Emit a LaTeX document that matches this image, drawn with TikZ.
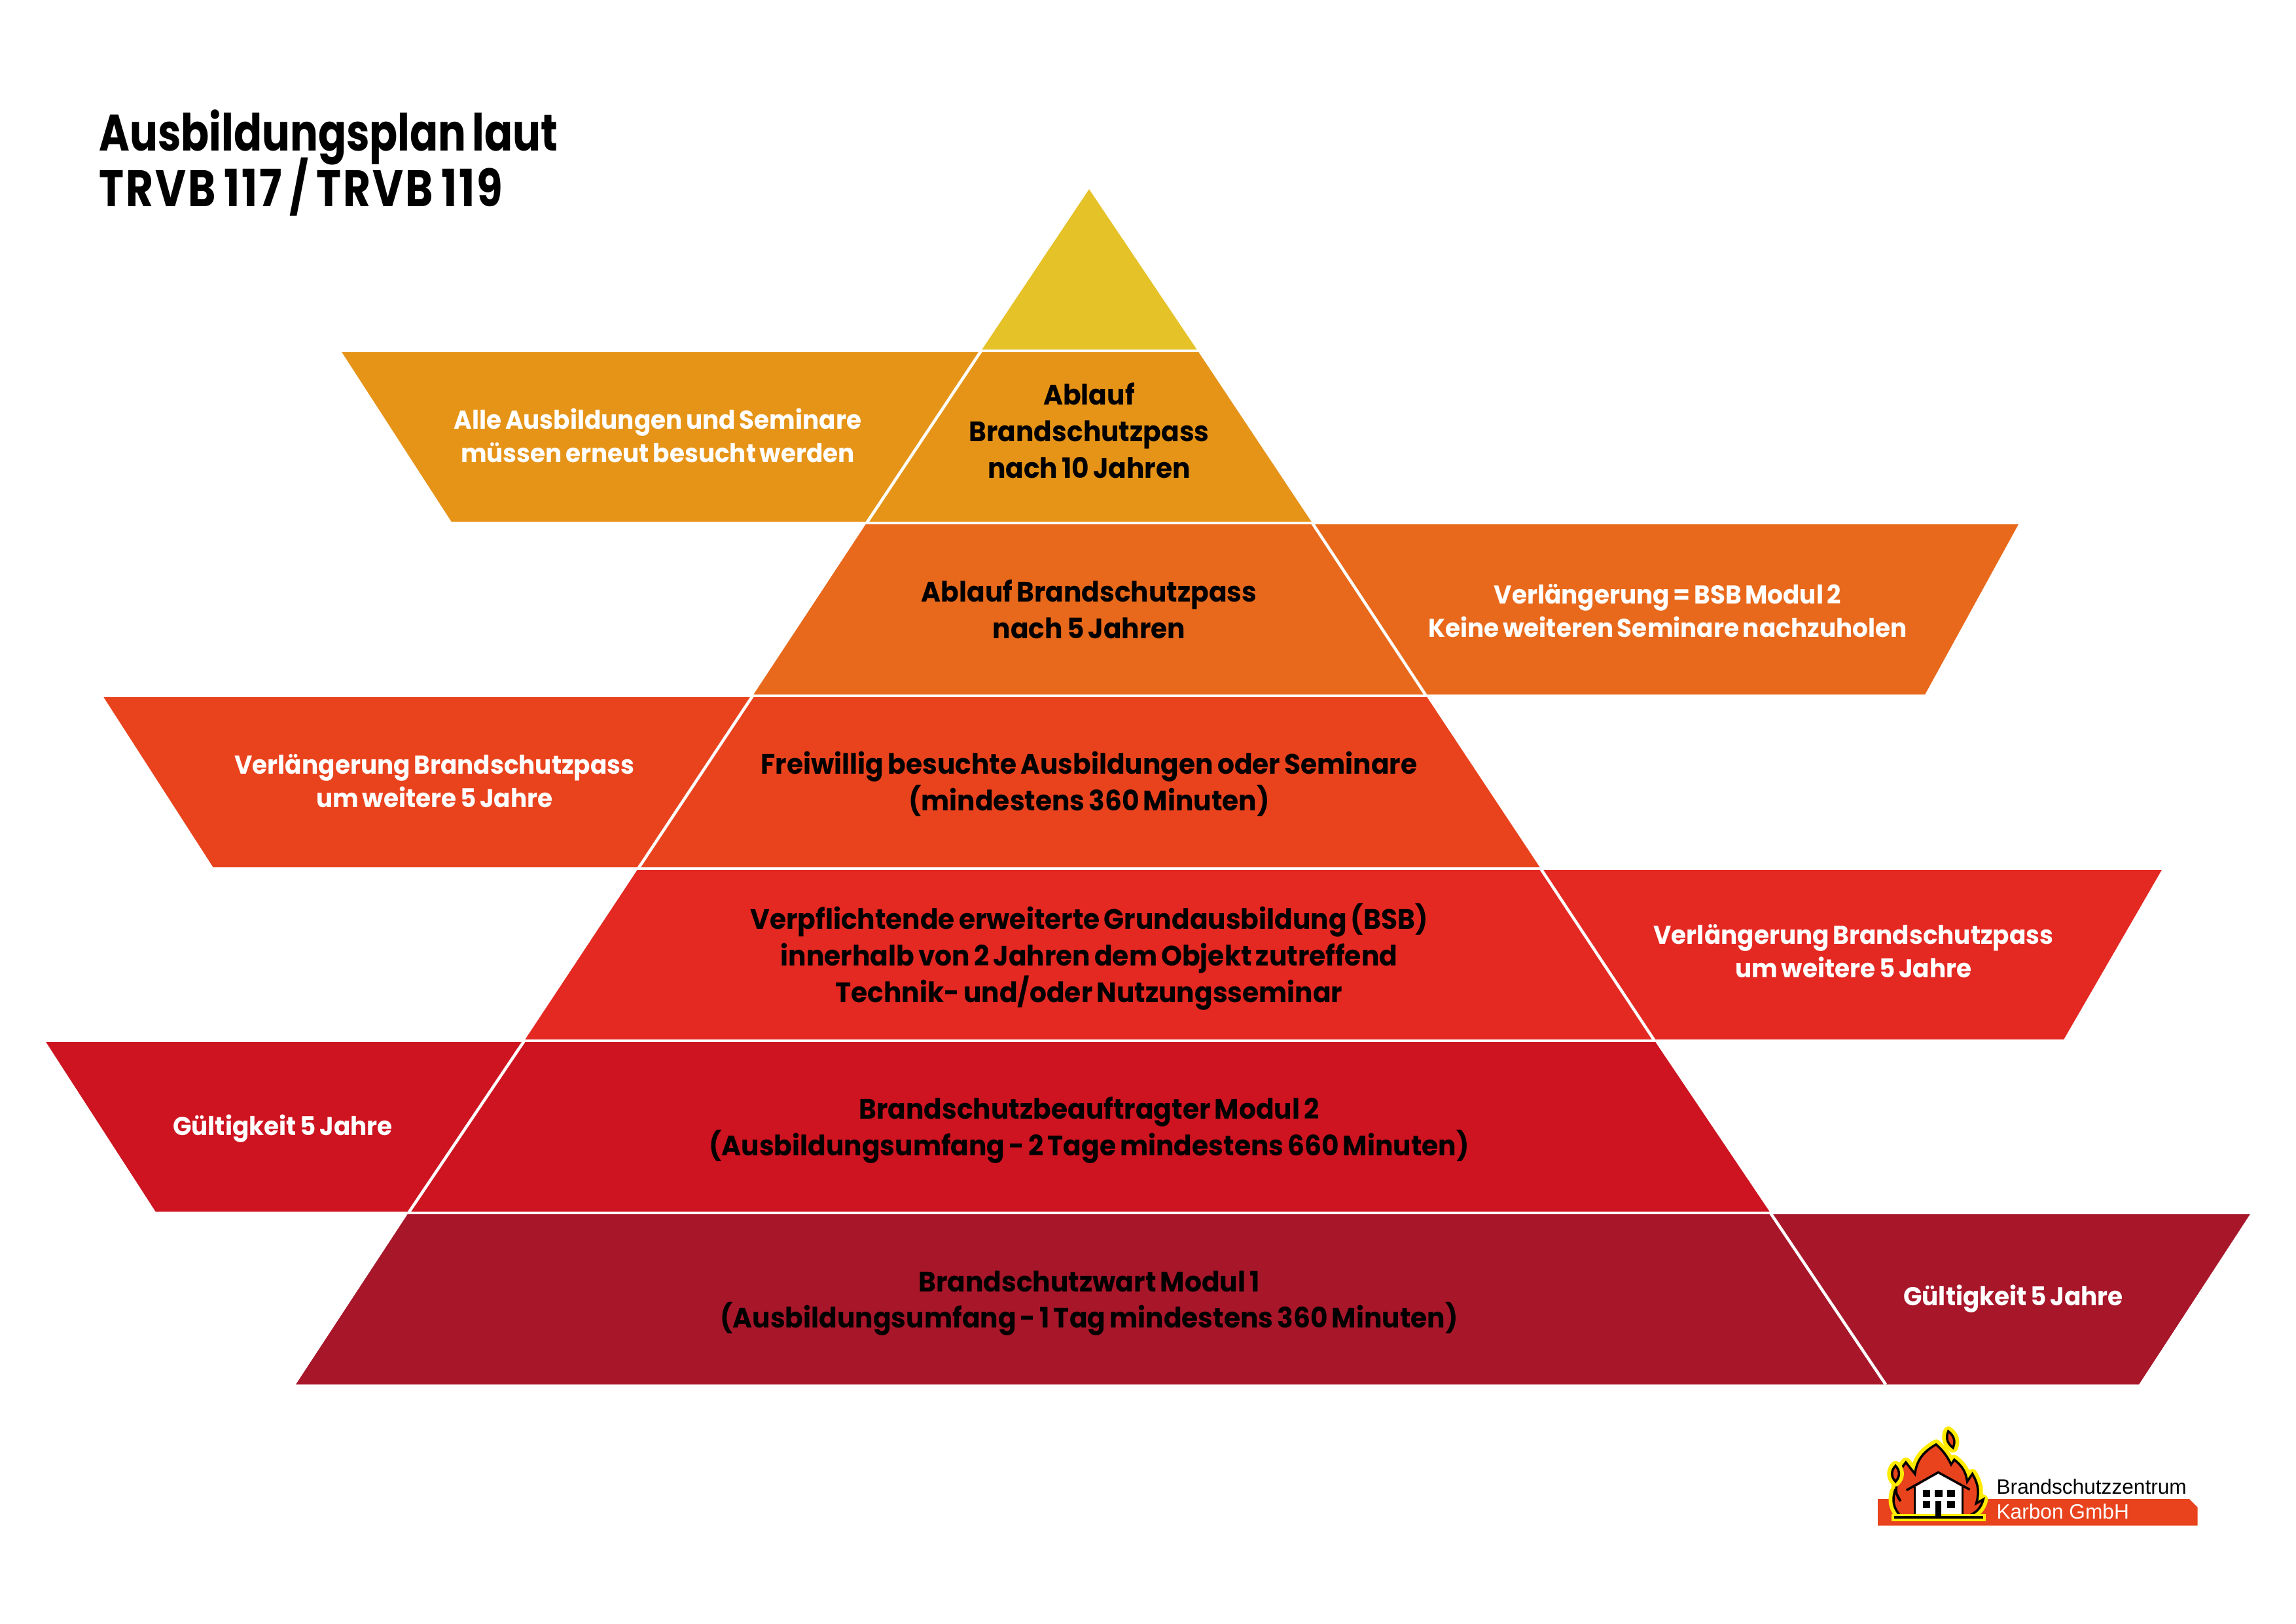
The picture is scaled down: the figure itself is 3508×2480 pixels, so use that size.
\documentclass[tikz,border=0pt]{standalone}
\usepackage{fontspec}
\setmainfont{Poppins}[FakeStretch=0.95,WordSpace=0.7]
\newfontfamily\titlefont{Poppins}[FakeStretch=0.81,WordSpace=0.7]
\newfontfamily\titlefontb{Poppins}[FakeStretch=0.82,WordSpace=0.7,LetterSpace=4]
\newfontfamily\logofont{Liberation Sans}
\definecolor{apexcol}{HTML}{E6C229}
\definecolor{rowa}{HTML}{E69418}
\definecolor{rowb}{HTML}{E8691B}
\definecolor{rowc}{HTML}{E9431E}
\definecolor{rowd}{HTML}{E42822}
\definecolor{rowe}{HTML}{CD1420}
\definecolor{rowf}{HTML}{A8162A}
\definecolor{flamecol}{HTML}{E8431D}
\definecolor{flameedge}{HTML}{FFEB00}
\begin{document}
\begin{tikzpicture}[
  x=0.01cm, y=-0.01cm,
  gap/.style={white, line width=4.5*0.01cm},
  lvltext/.style={align=center, inner sep=0pt, font=\fontsize{12.2}{15.9}\selectfont\bfseries},
  sidetext/.style={align=center, inner sep=0pt, text=white, font=\fontsize{11.2}{14.5}\selectfont\bfseries},
  titletext/.style={anchor=base west, inner sep=0pt, font=\fontsize{22.3}{24.2}\selectfont\bfseries},
  flameline/.style={draw=black, line width=3.5*0.01cm, line join=miter, preaction={draw=flameedge, line join=round, line width=15*0.01cm}}
]
\useasboundingbox (0,0) rectangle (3508,2480);

% pyramid corners
\coordinate (apex) at (1664,289);
\coordinate (l1) at (1499,536);  \coordinate (r1) at (1830,536);
\coordinate (l2) at (1324,799);  \coordinate (r2) at (2005,799);
\coordinate (l3) at (1150,1063); \coordinate (r3) at (2179,1063);
\coordinate (l4) at (975,1327);  \coordinate (r4) at (2354,1327);
\coordinate (l5) at (801,1590);  \coordinate (r5) at (2528,1590);
\coordinate (l6) at (624,1853);  \coordinate (r6) at (2705,1853);
\coordinate (l7) at (452,2115);  \coordinate (r7) at (2881,2115);

% rows, each with its side band
\fill[apexcol] (apex) -- (r1) -- (l1) -- cycle;
\fill[rowa] (521,536) -- (r1) -- (r2) -- (691,799) -- cycle;
\fill[rowb] (l2) -- (3085,799) -- (2940,1063) -- (l3) -- cycle;
\fill[rowc] (157,1063) -- (r3) -- (r4) -- (327,1327) -- cycle;
\fill[rowd] (l4) -- (3304,1327) -- (3152,1590) -- (l5) -- cycle;
\fill[rowe] (69,1590) -- (r5) -- (r6) -- (239,1853) -- cycle;
\fill[rowf] (l6) -- (3439,1853) -- (3268,2115) -- (l7) -- cycle;

% white gaps
\draw[gap] (500,536) -- (1850,536);
\draw[gap] (680,799) -- (3100,799);
\draw[gap] (140,1063) -- (3000,1063);
\draw[gap] (320,1327) -- (3320,1327);
\draw[gap] (50,1590) -- (3160,1590);
\draw[gap] (230,1853) -- (3450,1853);
\draw[gap] (l1) -- (l2);
\draw[gap] (r2) -- (r3);
\draw[gap] (l3) -- (l4);
\draw[gap] (r4) -- (r5);
\draw[gap] (l5) -- (l6);
\draw[gap] (r6) -- (r7);

% title
\node (title) [titletext] at (151,230) {\titlefont Ausbildungsplan laut};
\node (trvb) [titletext] at (151,315) {\titlefontb TRVB 117 / TRVB 119};

% texts in the pyramid
\node (pass10) [lvltext] at (1664,658) {Ablauf\\Brandschutzpass\\nach 10 Jahren};
\node (pass5) [lvltext] at (1664,931) {Ablauf Brandschutzpass\\nach 5 Jahren};
\node (freiwillig) [lvltext] at (1664,1198) {Freiwillig besuchte Ausbildungen oder Seminare\\(mindestens 360 Minuten)};
\node (grund) [lvltext] at (1664,1462) {Verpflichtende erweiterte Grundausbildung (BSB)\\innerhalb von 2 Jahren dem Objekt zutreffend\\Technik- und/oder Nutzungsseminar};
\node (modul2) [lvltext] at (1664,1727) {Brandschutzbeauftragter Modul 2\\(Ausbildungsumfang - 2 Tage mindestens 660 Minuten)};
\node (modul1) [lvltext] at (1664,1991) {Brandschutzwart Modul 1\\(Ausbildungsumfang - 1 Tag mindestens 360 Minuten)};

% texts in the side bands
\node (erneut) [sidetext] at (1005,665) {Alle Ausbildungen und Seminare\\müssen erneut besucht werden};
\node (bsb) [sidetext] at (2548,933) {Verlängerung = BSB Modul 2\\Keine weiteren Seminare nachzuholen};
\node (verla) [sidetext] at (664,1193) {Verlängerung Brandschutzpass\\um weitere 5 Jahre};
\node (verlb) [sidetext] at (2832,1453) {Verlängerung Brandschutzpass\\um weitere 5 Jahre};
\node (gueltiga) [sidetext] at (432,1724) {Gültigkeit 5 Jahre};
\node (gueltigb) [sidetext] at (3076,1984) {Gültigkeit 5 Jahre};

% logo
\begin{scope}[shift={(2800,2130)}, xscale=0.3954, yscale=0.3333]
\fill[flamecol] (175,480) -- (1378,480) -- (1410,518) -- (1410,602) -- (175,602) -- cycle;
\fill[flamecol, flameline] (262,558) to[bend left=25] (240,445) to[bend left=5] (262,490) to[bend left=25] (252,400) to[bend left=15] (283,312) -- (318,365) to[bend left=25] (400,230) to[bend left=10] (458,322) -- (470,300) to[bend left=20] (520,400) -- (540,365) to[bend left=20] (555,500) -- (582,482) to[bend left=25] (525,558) -- cycle;
\fill[flamecol, flameline] (447,170) to[bend left=35] (465,245) to[bend left=35] (447,170) -- cycle;
\fill[flamecol, flameline] (243,328) to[bend left=40] (243,400) to[bend left=40] (243,328) -- cycle;
\fill[white] (320,425) -- (408,362) -- (500,425) -- (500,560) -- (320,560) -- cycle;
\draw[black, line width=3.5*0.01cm] (285,440) -- (408,358) -- (530,437);
\draw[black, line width=3*0.01cm] (317,425) -- (317,560);
\draw[black, line width=3*0.01cm] (503,425) -- (503,560);
\fill[flameedge] (228,548) rectangle (592,582);
\fill[black] (238,558) rectangle (582,570);
\fill[black] (348,438) rectangle (378,470);
\fill[black] (395,438) rectangle (424,470);
\fill[black] (442,438) rectangle (472,470);
\fill[black] (348,488) rectangle (378,522);
\fill[black] (442,488) rectangle (472,522);
\fill[black] (397,488) rectangle (420,560);
\node (logoa) [anchor=base west, inner sep=0pt, font=\logofont\fontsize{9}{11}\selectfont] at (632,458) {Brandschutzzentrum};
\node (logob) [anchor=base west, inner sep=0pt, text=white, font=\logofont\fontsize{9}{11}\selectfont] at (632,570) {Karbon GmbH};
\end{scope}
\end{tikzpicture}
\end{document}
